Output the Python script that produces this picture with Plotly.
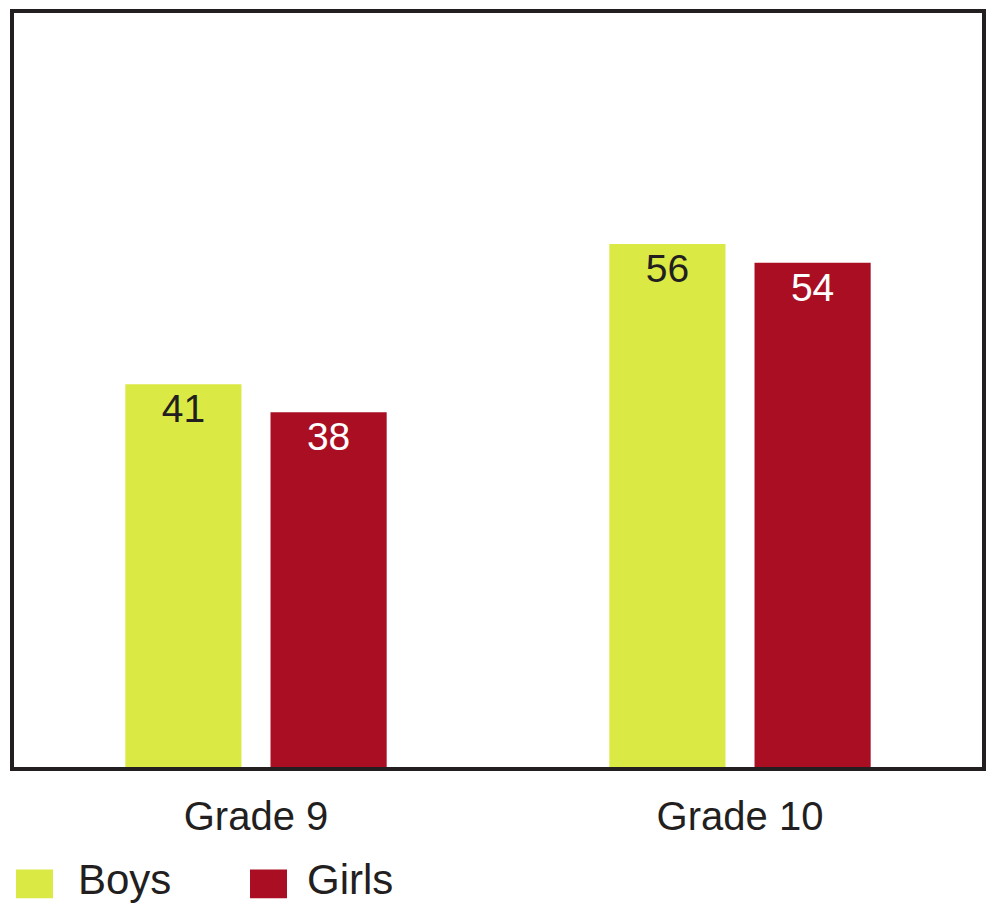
import plotly.graph_objects as go

categories = ["Grade 9", "Grade 10"]
series_names = ["Boys", "Girls"]
boys = [41, 56]
girls = [38, 54]

LIME = "#dbe945"
RED = "#aa0e23"
DARK = "#231f20"
FONT = "Liberation Sans, Arial, Helvetica, sans-serif"

# page body has an 8px margin; figure is sized so the screenshot matches
OFF = 8
W, H = 1001 - OFF, 905 - OFF
PL, PR, PT, PB = 14, 982, 9, 767  # plot-area edges in screenshot pixels

fig = go.Figure()
fig.add_trace(go.Bar(
    x=categories, y=boys, name=series_names[0], marker_color=LIME,
    marker_line_width=0,
    text=[str(v) for v in boys], textposition="inside", insidetextanchor="end",
    textangle=0,
    textfont=dict(family=FONT, size=39, color=DARK),
))
fig.add_trace(go.Bar(
    x=categories, y=girls, name=series_names[1], marker_color=RED,
    marker_line_width=0,
    text=[str(v) for v in girls], textposition="inside", insidetextanchor="end",
    textangle=0,
    textfont=dict(family=FONT, size=39, color="white"),
))

fig.update_layout(
    width=W, height=H,
    margin=dict(l=PL - OFF, r=1001 - PR, t=PT - OFF, b=905 - PB),
    paper_bgcolor="white", plot_bgcolor="white",
    barmode="group", bargap=0.4, bargroupgap=0.2,
    showlegend=False,
    font=dict(family=FONT, color=DARK),
)
fig.update_xaxes(
    showline=True, mirror=True, linewidth=4, linecolor=DARK,
    showgrid=False, ticks="", tickfont=dict(family=FONT, size=40, color=DARK),
    ticklabelstandoff=11,
)
fig.update_yaxes(
    range=[0, 80.75], showline=True, mirror=True, linewidth=4, linecolor=DARK,
    showgrid=False, zeroline=False, showticklabels=False, ticks="",
)


def px_x(x):
    return (x - PL) / (PR - PL)


def px_y(y):
    return (PB - y) / (PB - PT)


# manual legend (positions in screenshot pixels)
legend_items = [(series_names[0], LIME, 16, 76), (series_names[1], RED, 250, 305)]
for name, color, sx, tx in legend_items:
    fig.add_shape(type="rect", xref="paper", yref="paper",
                  x0=px_x(sx), x1=px_x(sx + 37),
                  y0=px_y(899), y1=px_y(870),
                  fillcolor=color, line_width=0)
    fig.add_annotation(xref="paper", yref="paper", x=px_x(tx),
                       y=px_y(880), xanchor="left", yanchor="middle",
                       text=name, showarrow=False,
                       font=dict(family=FONT, size=42, color=DARK))

fig.write_html("out.html")
